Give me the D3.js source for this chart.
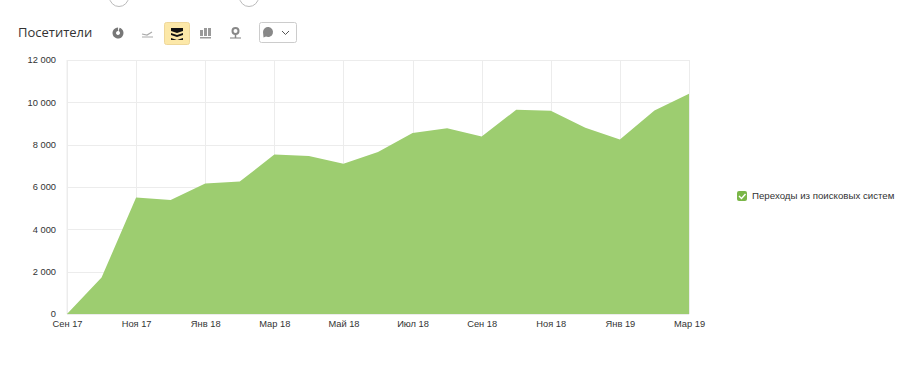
<!DOCTYPE html>
<html><head><meta charset="utf-8">
<script src="https://cdn.jsdelivr.net/npm/d3@7"></script>
<style>html,body{margin:0;background:#fff;overflow:hidden}svg{display:block}text{font-family:"Liberation Sans",Arial,sans-serif}</style>
</head><body><div id="c"></div>
<script>
const title = "Посетители";
const seriesName = "Переходы из поисковых систем";
const months = ["Сен 17","Окт 17","Ноя 17","Дек 17","Янв 18","Фев 18","Мар 18","Апр 18","Май 18","Июн 18","Июл 18","Авг 18","Сен 18","Окт 18","Ноя 18","Дек 18","Янв 19","Фев 19","Мар 19"];
const visits = [0,1720,5500,5380,6170,6260,7530,7470,7100,7650,8550,8770,8380,9650,9600,8800,8250,9620,10400];
const xTickLabels = ["Сен 17","Ноя 17","Янв 18","Мар 18","Май 18","Июл 18","Сен 18","Ноя 18","Янв 19","Мар 19"];
const yTicks = [0,2000,4000,6000,8000,10000,12000];

const svg = d3.select("#c").append("svg").attr("width",910).attr("height",375);
const x = d3.scalePoint().domain(months).range([67,689]);
const y = d3.scaleLinear().domain([0,12000]).range([314,60]);
const fmt = v => d3.format(",")(v).replace(/,/g," ");

const yAxis = svg.append("g").attr("transform","translate(67,0)")
  .call(d3.axisLeft(y).tickValues(yTicks).tickSize(-622).tickPadding(11).tickFormat(fmt));
const xAxis = svg.append("g").attr("transform","translate(0,314)")
  .call(d3.axisBottom(x).tickValues(xTickLabels).tickSize(-254).tickPadding(6));
[yAxis,xAxis].forEach(a=>{
  a.select(".domain").remove();
  a.selectAll("line").attr("stroke","#ececec").attr("shape-rendering","crispEdges");
  a.selectAll("text").attr("fill","#333").attr("font-size",9.3);
});
svg.append("line").attr("x1",67).attr("x2",67).attr("y1",60).attr("y2",314).attr("stroke","#ececec");

const area = d3.area().x((d,i)=>x(months[i])).y0(y(0)).y1(d=>y(d));
svg.append("path").datum(visits).attr("d",area).attr("fill","#9dcd70");

// header
svg.append("text").attr("x",18).attr("y",37).attr("font-size",13).attr("fill","#333").style("font-family","'Open Sans',sans-serif").text(title);

// toolbar icons
const g = svg.append("g");
g.append("path").attr("d",d3.arc()({innerRadius:2,outerRadius:5.5,startAngle:0.3,endAngle:6.3})).attr("transform","translate(118,33)").attr("fill","#777");
g.append("path").attr("d","M142 34l5 1 5-3M142 37h11").attr("fill","none").attr("stroke","#aaa").attr("stroke-width",1.2);
g.append("rect").attr("x",164.5).attr("y",22.5).attr("width",25).attr("height",22).attr("rx",2).attr("fill","#fce8a8").attr("stroke","#eed79a");
g.append("path").attr("d","M171 28h12v3l-6 2-6-2zM171 33l6 2 6-2v2l-6 2-6-2zM171 38l6 2 6-2v2h-12z").attr("fill","#111");
g.append("path").attr("d","M200 30h3v6h-3zM204 28h3v8h-3zM208 28h3v8h-3zM200 37h11v1.500h-11z").attr("fill","#999");
g.append("circle").attr("cx",235.500).attr("cy",31).attr("r",3).attr("fill","none").attr("stroke","#888").attr("stroke-width",2);
g.append("path").attr("d","M230 38h11").attr("stroke","#aaa").attr("stroke-width",1.5);
g.append("path").attr("d","M235.500 34v4").attr("stroke","#888").attr("stroke-width",1.5);
g.append("rect").attr("x",259.500).attr("y",22.500).attr("width",37).attr("height",20).attr("rx",2).attr("fill","#fff").attr("stroke","#ccc");
g.append("path").attr("d","M263 32a5 5 0 1 1 3 4.600l-2.500 1z").attr("fill","#888");
g.append("path").attr("d","M282 31l3.500 3.500 3.500-3.500").attr("fill","none").attr("stroke","#555").attr("stroke-width",1);

// cut-off controls on top edge
[119,249].forEach(cx=>svg.append("circle").attr("cx",cx).attr("cy",-3).attr("r",9.5).attr("fill","none").attr("stroke","#bbb"));

// legend
svg.append("rect").attr("x",737).attr("y",191).attr("width",10).attr("height",10).attr("rx",2).attr("fill","#7ab648");
svg.append("path").attr("d","M739 196l2.500 2.500 4-4.500").attr("fill","none").attr("stroke","#fff").attr("stroke-width",1.400);
svg.append("text").attr("x",752).attr("y",199).attr("font-size",9.7).attr("fill","#333").text(seriesName);
</script></body></html>
